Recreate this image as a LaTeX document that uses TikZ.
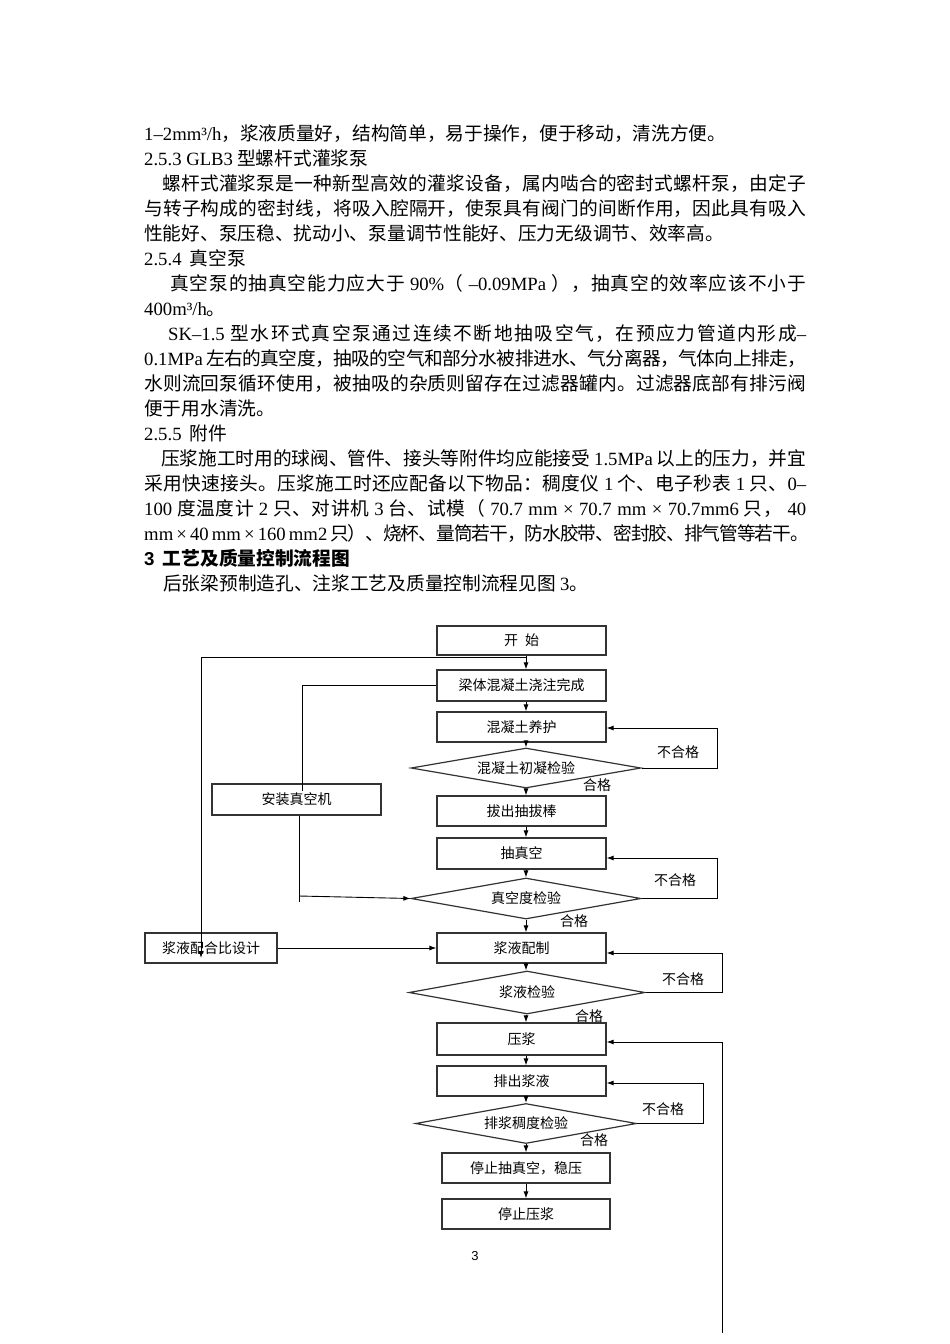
\documentclass[tikz,border=0pt]{standalone}
\usepackage{fontspec}
\setmainfont{Liberation Serif}
\setsansfont{Liberation Sans}
\newfontfamily\cjk{Noto Sans CJK SC}
\usetikzlibrary{arrows.meta,shapes.geometric}
\newcommand\tn[1]{{\rmfamily #1}}
% give CJK characters their own class so that stretchable glue goes between them
\newcount\cjkc
\cjkc="4E00
\loop \XeTeXcharclass\cjkc=1 \advance\cjkc by 1 \ifnum\cjkc<"A000 \repeat
\cjkc="3000
\loop \XeTeXcharclass\cjkc=1 \advance\cjkc by 1 \ifnum\cjkc<"3040 \repeat
\cjkc="FF00
\loop \XeTeXcharclass\cjkc=1 \advance\cjkc by 1 \ifnum\cjkc<"FFF0 \repeat
\XeTeXinterchartokenstate=1
\newcommand\cjkglue{\hskip 0pt plus 2pt minus 1pt\relax}
\XeTeXinterchartoks 1 1 = {\cjkglue}
\XeTeXinterchartoks 0 1 = {\cjkglue}
\XeTeXinterchartoks 1 0 = {\cjkglue}
\begin{document}
\begin{tikzpicture}[x=1pt,y=-1pt,
  bodytext/.style={anchor=base west, inner sep=0, font=\fontsize{18.7}{22}\selectfont\cjk},
  fbox/.style={draw=black!80, line width=1.2pt, inner sep=0, fill=white,
    minimum width=169pt, minimum height=30pt, font=\fontsize{14}{16}\selectfont\cjk},
  fdia/.style={diamond, draw=black!80, line width=1.2pt, inner sep=0, aspect=5.75,
    font=\fontsize{14}{16}\selectfont\cjk},
  arr/.style={-{Latex[length=7pt,width=5pt]}, line width=0.9pt},
  ln/.style={line width=0.9pt},
  lab/.style={inner sep=0, font=\fontsize{14}{16}\selectfont\cjk}]
\fill[white] (0,0) rectangle (950,1344);
\useasboundingbox (0,0) rectangle (950,1344);

% ---------- body text ----------
\node[bodytext] (t1) at (144,140) {\tn{1–2mm³/h}，浆液质量好，结构简单，易于操作，便于移动，清洗方便。};
\node[bodytext] (t2) at (144,165) {\tn{2.5.3 GLB3} 型螺杆式灌浆泵};
\node[bodytext] (t3) at (162,190) {\hbox to 644pt{螺杆式灌浆泵是一种新型高效的灌浆设备，属内啮合的密封式螺杆泵，由定子}};
\node[bodytext] (t4) at (144,215) {\hbox to 662pt{与转子构成的密封线，将吸入腔隔开，使泵具有阀门的间断作用，因此具有吸入}};
\node[bodytext] (t5) at (144,240) {性能好、泵压稳、扰动小、泵量调节性能好、压力无级调节、效率高。};
\node[bodytext] (t6) at (144,265) {\tn{2.5.4} \ 真空泵};
\node[bodytext] (t7) at (170,290) {\hbox to 636pt{真空泵的抽真空能力应大于 \tn{90\%}（\tn{ –0.09MPa }），抽真空的效率应该不小于}};
\node[bodytext] (t8) at (144,315) {\tn{400m³/h}。};
\node[bodytext] (t9) at (168,340) {\hbox to 638pt{\tn{SK–1.5} 型水环式真空泵通过连续不断地抽吸空气，在预应力管道内形成\tn{–}}};
\node[bodytext] (t10) at (144,365) {\hbox to 662pt{\tn{0.1MPa} 左右的真空度，抽吸的空气和部分水被排进水、气分离器，气体向上排走，}};
\node[bodytext] (t11) at (144,390) {\hbox to 662pt{水则流回泵循环使用，被抽吸的杂质则留存在过滤器罐内。过滤器底部有排污阀}};
\node[bodytext] (t12) at (144,415) {便于用水清洗。};
\node[bodytext] (t13) at (144,440) {\tn{2.5.5} \ 附件};
\node[bodytext] (t14) at (161,465) {\hbox to 645pt{压浆施工时用的球阀、管件、接头等附件均应能接受 \tn{1.5MPa} 以上的压力，并宜}};
\node[bodytext] (t15) at (144,490) {\hbox to 662pt{采用快速接头。压浆施工时还应配备以下物品：稠度仪 \tn{1} 个、电子秒表 \tn{1} 只、\tn{0–}}};
\node[bodytext] (t16) at (144,515) {\hbox to 662pt{\tn{100} 度温度计 \tn{2} 只、对讲机 \tn{3} 台、试模（\tn{ 70.7 mm × 70.7 mm × 70.7mm6} 只，\tn{ 40}}};
\node[bodytext] (t17) at (144,540) {\hbox to 662pt{\tn{mm × 40 mm × 160 mm2} 只）、烧杯、量筒若干，防水胶带、密封胶、排气管等若干。}};
\node[bodytext] (t18) at (144,565) {{\sffamily\bfseries 3}\ \ {\bfseries 工艺及质量控制流程图}};
\node[bodytext] (t19) at (163,590) {后张梁预制造孔、注浆工艺及质量控制流程见图 \tn{3}。};

% ---------- flowchart ----------
\coordinate (cx) at (526,0);
\node[fbox, minimum height=29pt] (start) at (521.5,640.5) {开\hspace{0.5em}始};
\node[fbox, minimum height=31pt] (pour) at (521.5,685.5) {梁体混凝土浇注完成};
\node[fbox] (cure) at (521.5,727) {混凝土养护};
\node[fdia, minimum width=230pt, minimum height=40pt] (d1) at (526,768) {混凝土初凝检验};
\node[fbox] (pull) at (521.5,811) {拔出抽拔棒};
\node[fbox, minimum height=31pt] (vac) at (521.5,853.5) {抽真空};
\node[fdia, minimum width=230pt, minimum height=41pt] (d2) at (526,898.5) {真空度检验};
\node[fbox] (mix) at (521.5,948) {浆液配制};
\node[fdia, minimum width=236pt, minimum height=43pt] (d3) at (527,992.5) {浆液检验};
\node[fbox, minimum height=32pt] (press) at (521.5,1039) {压浆};
\node[fbox] (drain) at (521.5,1081) {排出浆液};
\node[fdia, minimum width=221pt, minimum height=40pt] (d4) at (526,1123.5) {排浆稠度检验};
\node[fbox, minimum width=168pt] (stopv) at (526,1168) {停止抽真空，稳压\hspace{14pt}};
\node[fbox, minimum width=168pt] (stopp) at (526,1214) {停止压浆};
\node[fbox, minimum height=31pt] (vacm) at (296.5,799.5) {安装真空机};
\node[fbox, minimum width=132pt] (design) at (211,948) {浆液配合比设计};

% main column arrows
\draw[arr] (start.south -| cx) -- (pour.north -| cx);
\draw[arr] (pour.south -| cx) -- (cure.north -| cx);
\draw[arr] (cure.south -| cx) -- (d1.north);
\draw[arr] (d1.south) -- (pull.north -| cx);
\draw[arr] (pull.south -| cx) -- (vac.north -| cx);
\draw[arr] (vac.south -| cx) -- (d2.north);
\draw[arr] (d2.south) -- (mix.north -| cx);
\draw[arr] (mix.south -| cx) -- (d3.north -| cx);
\draw[arr] (d3.south -| cx) -- (press.north -| cx);
\draw[arr] (press.south -| cx) -- (drain.north -| cx);
\draw[arr] (drain.south -| cx) -- (d4.north);
\draw[arr] (d4.south) -- (stopv.north);
\draw[arr] (stopv.south) -- (stopp.north);

% feedback loops
\coordinate (r1) at (717,0);
\coordinate (r3) at (722,0);
\coordinate (r4) at (703,0);
\coordinate (c2) at ([yshift=-1pt]cure.east);
\coordinate (v2) at ([yshift=-4.5pt]vac.east);
\coordinate (m2) at ([yshift=-5pt]mix.east);
\coordinate (p2) at ([yshift=-3pt]press.east);
\coordinate (dr2) at ([yshift=-2pt]drain.east);
\draw[arr] (d1.east) -| (r1 |- c2) -- (c2);
\draw[arr] (d2.east) -| (r1 |- v2) -- (v2);
\draw[arr] (d3.east) -| (r3 |- m2) -- (m2);
\draw[arr] (d4.east) -| (r4 |- dr2) -- (dr2);
\coordinate (bend) at (722,1333);
\draw[arr] (bend) |- (p2);

% left side connectors
\coordinate (j1) at (526,657);
\coordinate (lb) at (201,958);
\draw[arr] (j1) -| (lb);
\coordinate (vm1) at (302,791);
\draw[ln] (pour.west) -| (vm1);
\coordinate (vm2) at (299,902);
\draw[ln] (vacm.south -| vm2) -- (vm2);
\coordinate (vm3) at (299,896);
\draw[arr] (vm3) -- (d2.west);
\draw[arr] (design.east) -- (mix.west);

% labels
\node[lab] (n1) at (678,752) {不合格};
\node[lab] (h1) at (597,785) {合格};
\node[lab] (n2) at (675,880) {不合格};
\node[lab] (h2) at (574,921) {合格};
\node[lab] (n3) at (683,979) {不合格};
\node[lab] (h3) at (589,1016) {合格};
\node[lab] (n4) at (663,1109) {不合格};
\node[lab] (h4) at (594,1140) {合格};

\node[inner sep=0, font=\sffamily\fontsize{13}{15}\selectfont] (pg) at (475,1256) {3};
\end{tikzpicture}
\end{document}
